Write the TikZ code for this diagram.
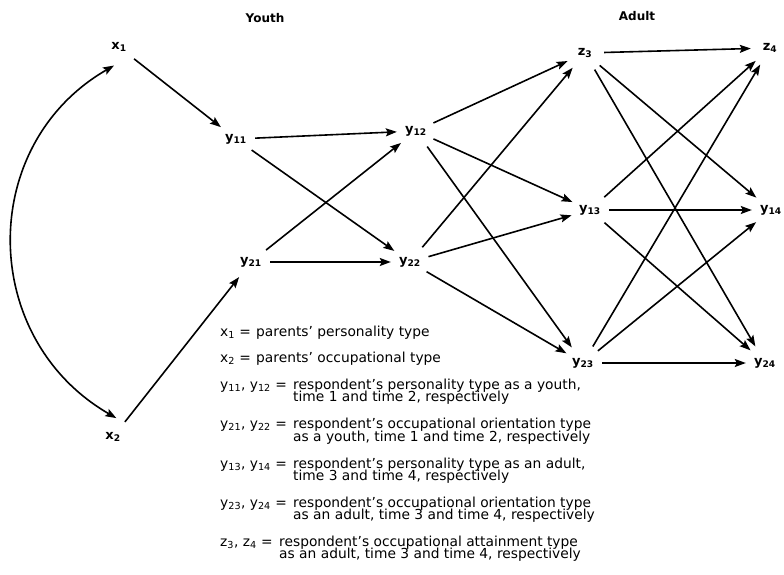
\documentclass[tikz,border=0pt]{standalone}
\usepackage{fontspec}
\setmainfont{DejaVu Sans}
\usetikzlibrary{arrows.meta}

\newcommand{\legfont}{\fontsize{13.8}{15}\selectfont}
\newcommand{\legone}[4]{%
  \node[legsym] (#1s) at (220,#2) {#3};
  \node[legsym] (#1a) at (256,#2) {#4};}
\newcommand{\legtwo}[6]{%
  \node[legsym] (#1s) at (220,#2) {#3};
  \node[legsym] (#1a) at (#4,#2) {#5};
  \node[legsym] (#1b) at (#4,#2-12.5) {#6};}

\begin{document}
\begin{tikzpicture}[x=1pt,y=1pt,
  var/.style={circle,minimum size=38pt,inner sep=0pt,font=\bfseries\fontsize{13}{15}\selectfont},
  hdr/.style={inner sep=0pt,font=\bfseries\fontsize{12}{14}\selectfont},
  legsym/.style={anchor=base west,inner sep=0pt,font=\legfont},
  link/.style={-{Stealth[length=11pt,width=8pt,inset=2pt]},line width=1.6pt}]
\useasboundingbox (0,0) rectangle (784,-575);

\node[hdr] (youth) at (265,-18) {Youth};
\node[hdr] (adult) at (637,-16) {Adult};

\node[var] (x1) at (119,-47) {x\textsubscript{1}};
\node[var] (x2) at (113,-437) {x\textsubscript{2}};
\node[var] (y11) at (236,-139) {y\textsubscript{11}};
\node[var] (y21) at (251,-262) {y\textsubscript{21}};
\node[var] (y12) at (416,-131) {y\textsubscript{12}};
\node[var] (y22) at (410,-262) {y\textsubscript{22}};
\node[var] (z3) at (585,-53) {z\textsubscript{3}};
\node[var] (y13) at (590,-210) {y\textsubscript{13}};
\node[var] (y23) at (583,-363) {y\textsubscript{23}};
\node[var] (z4) at (770,-48) {z\textsubscript{4}};
\node[var] (y14) at (771,-210) {y\textsubscript{14}};
\node[var] (y24) at (765,-363) {y\textsubscript{24}};

\draw[link,{Stealth[length=11pt,width=8pt,inset=2pt]}-{Stealth[length=11pt,width=8pt,inset=2pt]}]
  (x1.255) to[out=210,in=150,looseness=1.15] (x2.80);

\foreach \a/\b in {x1/y11,x2/y21,y11/y12,y11/y22,y21/y12,y21/y22,
  y12/z3,y12/y13,y12/y23,y22/z3,y22/y13,y22/y23,
  z3/z4,z3/y14,z3/y24,y13/z4,y13/y14,y13/y24,y23/z4,y23/y14,y23/y24}
  \draw[link] (\a) -- (\b);

\legone{lx1}{-336}{x\textsubscript{1} =}{parents’ personality type}
\legone{lx2}{-362.5}{x\textsubscript{2} =}{parents’ occupational type}
\legtwo{ly1}{-389}{y\textsubscript{11}, y\textsubscript{12} =}{293}
  {respondent’s personality type as a youth,}{time 1 and time 2, respectively}
\legtwo{ly2}{-428.5}{y\textsubscript{21}, y\textsubscript{22} =}{293}
  {respondent’s occupational orientation type}{as a youth, time 1 and time 2, respectively}
\legtwo{ly3}{-468}{y\textsubscript{13}, y\textsubscript{14} =}{293}
  {respondent’s personality type as an adult,}{time 3 and time 4, respectively}
\legtwo{ly4}{-507}{y\textsubscript{23}, y\textsubscript{24} =}{293}
  {respondent’s occupational orientation type}{as an adult, time 3 and time 4, respectively}
\legtwo{lz}{-546}{z\textsubscript{3}, z\textsubscript{4} =}{279}
  {respondent’s occupational attainment type}{as an adult, time 3 and time 4, respectively}

\end{tikzpicture}
\end{document}
